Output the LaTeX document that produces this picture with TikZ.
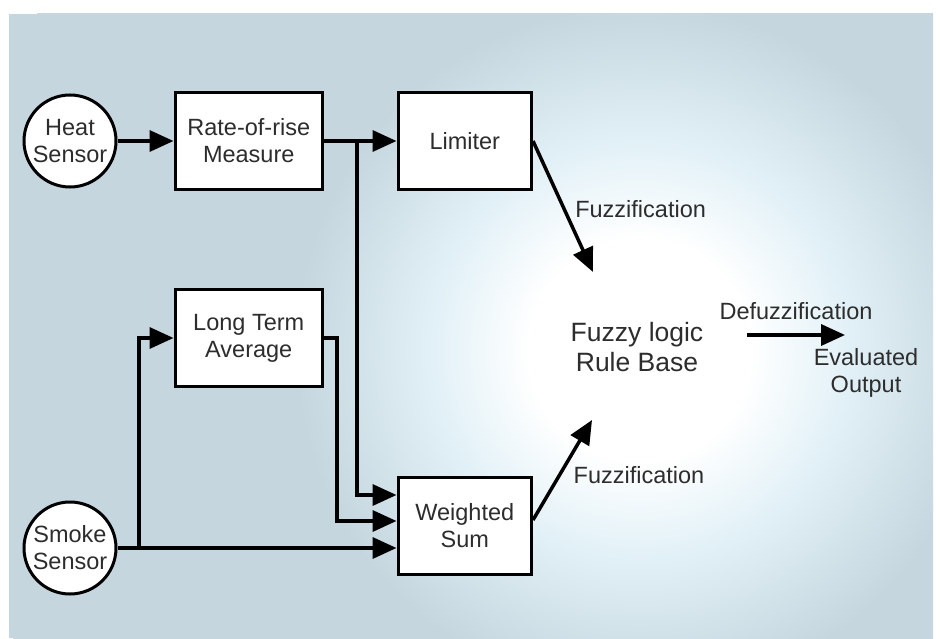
\documentclass[tikz,border=0pt]{standalone}
\usepackage{fontspec}
\setmainfont{Liberation Sans}
\usepackage{tikz}
\usetikzlibrary{positioning, arrows.meta}
\definecolor{panel}{RGB}{197,214,222}
\definecolor{glowmid}{RGB}{226,241,247}
\definecolor{inkgrey}{RGB}{45,45,45}
\pgfdeclareradialshading{glow}{\pgfpoint{0bp}{0bp}}{color(0bp)=(white); color(4bp)=(white); color(7.5bp)=(glowmid); color(12.5bp)=(panel); color(50bp)=(panel)}
\tikzset{
  block/.style={rectangle, draw, fill=white, line width=3.5pt, minimum height=97pt, align=center, text=inkgrey},
  sensor/.style={circle, draw, fill=white, line width=3pt, minimum size=92pt, inner sep=0pt, align=center, text=inkgrey},
  arrow/.style={-{Triangle[length=24pt, width=21pt]}, line width=3.5pt},
  tag/.style={text=inkgrey, align=center},
}

\begin{document}
\begin{tikzpicture}[x=1pt, y=1pt, font=\fontsize{23.5}{27}\selectfont]
  % Background
  \useasboundingbox (0,0) rectangle (941,638);
  \fill[panel] (9,0) rectangle (933,624);
  \begin{scope}
    \clip (9,0) rectangle (933,624);
    \shade[shading=glow] (640,288) circle (690);
  \end{scope}

  % Nodes
  \node[sensor] (heat) at (70,497) {Heat\\Sensor};
  \node[block, minimum width=147pt, right=56pt of heat] (rate) {Rate-of-rise\\Measure};
  \node[block, minimum width=133pt, right=72.5pt of rate] (limiter) {Limiter};
  \node[block, minimum width=147pt, below=96.5pt of rate] (lta) {Long Term\\Average};
  \node[block, minimum width=133pt, below=284.5pt of limiter] (ws) {Weighted\\Sum};
  \node[sensor, below=312pt of heat] (smoke) {Smoke\\Sensor};
  \node[tag, font=\fontsize{26.5}{30}\selectfont] (rule) at (637,291) {Fuzzy logic\\Rule Base};

  % Junctions and free ends
  \coordinate (tapA) at ([xshift=33pt]rate.east);
  \coordinate (tapB) at ([xshift=21.5pt]smoke.east);
  \coordinate (tipA) at ([shift={(-44pt,75pt)}]rule.center);
  \coordinate (tipB) at ([shift={(-45pt,-73pt)}]rule.center);
  \coordinate (dstart) at ([shift={(110pt,12pt)}]rule.center);
  \coordinate (dend) at ([xshift=98pt]dstart);

  % Arrows
  \draw[arrow] (heat) -- (rate);
  \draw[arrow] (rate) -- (limiter);
  \draw[arrow] (tapA) |- ([yshift=31pt]ws.west);
  \draw[arrow] (tapB) |- (lta.west);
  \draw[arrow] (lta.east) -- ++(13pt,0) |- ([yshift=5pt]ws.west);
  \draw[arrow] (smoke) -- (smoke -| ws.west);
  \draw[arrow] (limiter.east) -- node[tag, pos=0.52, right=6pt] {Fuzzification} (tipA);
  \draw[arrow] ([yshift=6pt]ws.east) -- node[tag, pos=0.45, right=9pt] {Fuzzification} (tipB);
  \draw[arrow] (dstart) -- node[tag, above=10pt] {Defuzzification} (dend);
  \node[tag] (out) at ([shift={(21pt,-38pt)}]dend) {Evaluated\\Output};
\end{tikzpicture}
\end{document}
